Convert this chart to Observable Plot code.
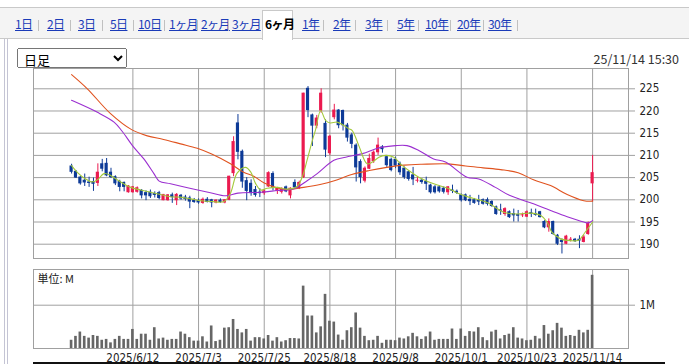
<!DOCTYPE html>
<html><head><meta charset="utf-8">
<script src="https://cdn.jsdelivr.net/npm/d3@7"></script>
<script src="https://cdn.jsdelivr.net/npm/@observablehq/plot@0.6"></script>
<style>
body{margin:0;background:#fff;}
#wrap{position:relative;width:689px;height:364px;overflow:hidden;font-family:"Noto Sans CJK JP",sans-serif;}
#tabbar{position:absolute;left:0;top:7px;width:689px;height:32px;background:#f4f4f4;border-top:1px solid #c9c9c9;border-bottom:1px solid #c9c9c9;box-sizing:border-box;}
.sel{position:absolute;left:262px;top:10px;width:31px;height:30px;background:#fff;border:1px solid #c9c9c9;border-bottom:none;box-sizing:border-box;}
.tab{position:absolute;top:17px;font-size:12px;line-height:14px;color:#1a3bb8;text-decoration:underline;white-space:nowrap;letter-spacing:-0.6px;}
.tab.on{color:#000;font-weight:bold;text-decoration:none;}
.sep{position:absolute;top:20px;width:1px;height:11px;background:#c0c0c0;}
#box{position:absolute;left:4px;top:39px;width:2px;height:330px;border-left:1px solid #c4c4d4;border-right:1px solid #c4c4d4;}
#ddl{position:absolute;left:17px;top:48px;width:110px;height:20px;font-size:13px;font-family:"Noto Sans CJK JP",sans-serif;padding:0 2px;}
#stamp{position:absolute;right:10px;top:49px;font-size:12.5px;color:#333;font-family:"Noto Sans CJK JP",sans-serif;}
#price{position:absolute;left:0;top:60px;}
#vol{position:absolute;left:0;top:260px;}
#base{position:absolute;left:33px;top:362px;width:632px;height:2px;background:#111;}
</style></head>
<body><div id="wrap">
<div id="tabbar"></div>
<div class="sel"></div>
<div id="tabs"></div>
<div id="box"></div>
<select id="ddl"><option>日足</option></select>
<div id="stamp">25/11/14 15:30</div>
<div id="price"></div>
<div id="vol"></div>
<div id="base"></div>
</div>
<script>
// ---- page texts ----
const tabLabels = ["1日","2日","3日","5日","10日","1ヶ月","2ヶ月","3ヶ月","6ヶ月","1年","2年","3年","5年","10年","20年","30年"];
const tabLeft   = [15,47,78,110,138,169,201,232,265,302,333,365,397,425,457,488];
const sepLeft   = [38,70,102,133,164,197,228,323,355,387,418,450,483,517];
const selectedTab = "6ヶ月";

// ---- chart data (trading-day index 0 = 2025/5/23 ... 119 = 2025/11/14) ----
const open = [207.5,206.3,205.0,204.3,203.9,204.0,203.8,208.0,208.1,206.1,
205.1,204.0,203.8,201.7,201.7,201.8,202.0,201.5,201.6,201.3,
201.5,199.9,199.9,201.0,199.9,200.9,200.5,200.3,199.8,199.7,
199.3,200.0,199.9,199.4,199.8,199.4,200.0,206.0,217.2,210.8,
204.2,203.6,202.2,201.6,201.5,203.0,205.8,202.0,201.8,202.8,
201.0,203.8,202.6,205.1,225.0,219.0,216.7,220.1,217.1,210.5,
218.6,220.1,220.0,216.7,214.5,212.2,208.5,204.3,207.0,208.7,
210.7,211.8,209.6,209.0,209.0,208.1,207.0,206.2,205.5,204.3,
204.3,204.0,203.2,202.8,202.8,202.5,201.7,202.1,201.8,201.0,
201.0,200.0,199.9,199.8,199.9,199.9,199.5,198.3,197.6,196.8,
197.2,196.8,196.6,196.5,196.2,197.0,196.8,197.2,195.0,193.8,
195.0,191.9,190.8,190.1,191.0,191.0,191.0,190.5,192.3,203.7];
const high = [208.0,206.6,205.3,205.8,205.1,204.9,208.1,209.1,209.3,207.1,
205.4,204.4,204.0,203.2,203.0,202.9,202.3,202.0,202.2,201.8,
201.9,201.2,201.2,201.5,201.4,201.2,201.0,200.8,200.3,200.2,
200.4,200.5,200.1,200.0,200.2,200.0,205.3,214.2,219.2,211.2,
205.0,204.5,203.0,202.5,202.3,206.3,206.3,202.8,202.7,203.1,
202.7,204.5,204.2,224.0,225.5,219.3,219.0,225.0,218.0,214.5,
221.5,220.3,220.2,217.2,215.0,212.6,209.0,207.4,210.3,211.0,
213.9,212.2,210.0,209.4,209.6,208.5,207.4,206.5,207.3,205.0,
204.7,205.1,203.5,203.2,203.2,202.9,203.0,203.3,202.2,201.3,
201.3,201.0,200.3,201.0,200.2,200.4,199.8,198.6,199.0,198.2,
197.5,197.9,197.6,197.0,197.5,197.9,197.9,197.4,195.3,195.7,
195.2,192.2,191.2,192.0,191.5,191.3,191.9,192.0,195.0,210.0];
const low = [205.8,204.8,203.3,203.0,202.8,201.9,203.0,206.3,205.2,204.8,
203.2,201.8,201.8,201.5,201.5,201.5,200.2,199.8,200.3,200.4,
200.0,199.8,199.7,199.2,198.7,199.9,199.7,198.0,199.2,199.0,
199.0,199.3,198.2,199.1,199.2,199.1,199.8,205.2,209.0,202.6,
199.8,200.8,200.6,200.5,201.0,202.8,202.0,201.2,201.3,201.6,
200.2,202.5,202.3,204.8,218.5,212.0,216.0,219.5,209.5,210.0,
218.0,216.0,215.5,213.0,211.5,204.0,203.6,203.8,206.8,208.2,
210.0,210.5,207.3,206.3,207.0,205.5,204.6,204.2,203.2,203.8,
203.5,202.1,201.3,201.3,201.5,201.3,201.0,201.4,201.2,199.5,
199.6,198.7,199.0,198.7,198.8,198.6,198.3,196.5,196.5,196.3,
195.8,195.0,195.0,196.0,196.0,196.0,196.3,195.9,193.5,192.7,
192.0,189.7,187.8,189.9,190.5,190.4,189.0,190.3,192.0,199.6];
const close = [206.3,205.0,203.7,203.9,203.8,203.6,206.1,207.0,205.5,205.1,
203.7,202.9,202.9,203.0,202.8,202.6,201.0,201.0,200.8,201.1,
200.4,201.1,201.0,200.6,201.1,200.3,200.2,199.6,199.5,199.4,
200.0,199.5,199.4,199.8,199.5,199.9,205.2,213.0,210.8,204.1,
202.0,201.5,201.1,201.5,201.9,206.0,202.7,202.5,202.4,201.9,
202.5,202.8,203.8,223.9,220.2,216.7,218.3,223.9,211.3,214.2,
220.1,216.8,216.8,214.0,212.6,207.3,205.1,207.0,209.2,210.6,
212.2,211.4,207.8,206.7,207.7,206.2,205.1,204.7,204.6,204.3,
204.0,203.6,201.7,201.7,201.9,201.8,202.8,202.0,201.6,199.9,
199.9,199.7,199.3,199.6,199.1,199.1,198.6,196.8,197.5,197.9,
196.1,196.5,196.4,196.5,197.2,196.8,196.6,196.1,193.8,195.0,
192.3,190.1,190.5,191.7,191.0,190.7,190.8,191.5,194.6,206.0];
// volume in millions of shares
const volume = [0.19,0.28,0.38,0.28,0.24,0.30,0.28,0.19,0.21,0.13,
0.21,0.28,0.21,0.21,0.44,0.21,0.33,0.33,0.19,0.48,
0.22,0.24,0.19,0.21,0.21,0.38,0.33,0.25,0.17,0.17,
0.27,0.15,0.52,0.16,0.19,0.47,0.48,0.67,0.44,0.36,
0.44,0.17,0.25,0.25,0.22,0.30,0.17,0.25,0.15,0.18,
0.23,0.23,0.22,1.44,0.75,0.75,0.36,0.50,1.25,0.63,
0.61,0.31,0.19,0.41,0.48,0.82,0.47,0.28,0.18,0.19,
0.28,0.12,0.19,0.19,0.18,0.24,0.22,0.27,0.35,0.27,
0.21,0.27,0.38,0.19,0.21,0.21,0.21,0.45,0.21,0.45,
0.28,0.39,0.38,0.48,0.25,0.18,0.38,0.42,0.22,0.30,
0.33,0.48,0.24,0.22,0.18,0.19,0.28,0.22,0.53,0.33,
0.41,0.58,0.47,0.28,0.30,0.28,0.42,0.36,0.42,1.69];
// moving averages: [day index, value]
const maShort = [[0,207.7],[1.3,206.2],[3.2,204.7],[4.7,204.0],[5.9,204.5],[7.4,205.9],[8.9,205.5],[10.4,204.5],[11.9,203.6],[13.5,202.8],
[15.8,202.2],[18,201.7],[20.3,201.2],[22.6,200.7],[24.9,200.6],[27.2,200.2],[29.5,199.8],[32,199.6],[34.8,199.6],[36.3,201.5],
[37.8,206.0],[39.7,207.3],[40.9,206.3],[42,203.7],[43.2,202.2],[44.7,202.6],[47,202.8],[49.2,202.4],[51.5,203.0],[52.7,205.2],
[53.8,209.0],[55,213.4],[55.7,215.7],[56.9,220.1],[58,217.9],[59.1,217.3],[60.6,217.5],[62.1,216.8],[63.3,216.0],[64.1,215.6],
[65.6,212.2],[67.5,208.1],[68.7,208.5],[70.2,209.6],[71.7,210.0],[73.6,209.6],[75.1,208.1],[77,206.6],[79.3,205.1],[81.6,204.0],
[83.9,203.2],[86.2,202.5],[88.4,201.4],[90.7,200.6],[93,200.0],[95.3,199.2],[98.7,197.2],[101.8,196.8],[104.8,197.0],[107.1,196.5],
[108.6,195.0],[109.7,192.7],[111.7,191.2],[113.9,190.8],[115.8,190.9],[117.3,192.7],[119,195.0]];
const maMid = [[0,222.4],[5.9,219.7],[9.7,217.5],[11.5,215.5],[13.9,212.2],[16.5,209.2],[18.8,205.9],[20,204.2],[22.6,203.6],[27.5,202.5],
[31.7,201.6],[35.2,200.9],[38,201.5],[43.2,201.7],[47,202.1],[50.8,202.5],[53.8,204.3],[56.1,205.9],[59.9,208.9],[62.6,209.6],
[66.4,210.4],[70.2,211.7],[74,212.2],[76.6,212.2],[79.3,211.1],[82.7,209.2],[85.4,208.5],[90.3,205.1],[93,204.7],[96.8,202.8],
[100,201.0],[105.5,199.1],[109.4,197.6],[113.2,196.2],[117,195.0],[118,194.8],[119,195.3]];
const maLong = [[0,228.2],[3.6,225.0],[8.9,219.4],[13.7,215.8],[17.3,214.4],[21,213.6],[24.9,212.6],[28.7,211.6],[32,210.3],[36.3,208.1],
[39.3,206.2],[41.6,205.3],[44,203.8],[49,202.3],[53,202.8],[57,203.5],[60,204.3],[64,205.7],[68,206.6],[72,207.3],
[76,207.8],[80,208.0],[86,208.1],[90,207.6],[94,207.2],[98,206.8],[102,206.1],[105.5,204.5],[109.4,203.2],[113.2,201.2],
[117,199.8],[119,199.7]];
const tickIdx = [14,29,44,59,74,89,104,119];
const tickLabels = ["2025/6/12","2025/7/3","2025/7/25","2025/8/18","2025/9/8","2025/10/1","2025/10/23","2025/11/14"];
const priceTicks = [190,195,200,205,210,215,220,225];
const volTicks = [1];

// ---- tabs ----
const tabsEl = document.getElementById("tabs");
tabLabels.forEach((t,k)=>{const s=document.createElement("span");s.className="tab"+(t===selectedTab?" on":"");s.style.left=tabLeft[k]+"px";s.textContent=t;tabsEl.appendChild(s);});
sepLeft.forEach(x=>{const s=document.createElement("span");s.className="sep";s.style.left=x+"px";tabsEl.appendChild(s);});

// ---- build rows ----
const rows = close.map((c,i)=>({i, o:open[i], h:high[i], l:low[i], c, v:volume[i], up:c>=open[i]}));
const RED="#eb1a4f", BLUE="#0d3a97", GRID="#a0a0a0";
const xDom=[-8.7,127.2];
const lab = new Map(tickIdx.map((t,k)=>[t,tickLabels[k]]));
const font = {fontFamily:"'DejaVu Sans Condensed','DejaVu Sans',sans-serif",fontSize:"11.5px",color:"#222",background:"transparent",overflow:"visible"};

const price = Plot.plot({
  width:689,height:205,marginTop:8,marginBottom:7,marginLeft:33,marginRight:61,
  style:font,
  x:{domain:xDom,axis:null},
  y:{domain:[186.78,229.57],axis:null},
  marks:[
    Plot.ruleY(priceTicks,{stroke:GRID}),
    Plot.ruleX(tickIdx,{stroke:GRID}),
    Plot.ruleX(rows,{x:"i",y1:"l",y2:"h",stroke:d=>d.up?RED:BLUE,strokeWidth:1}),
    Plot.rect(rows,{x1:d=>d.i-0.36,x2:d=>d.i+0.36,y1:"o",y2:"c",fill:d=>d.up?RED:BLUE,insetTop:-0.5,insetBottom:-0.5}),
    Plot.line(maLong,{x:d=>d[0],y:d=>d[1],stroke:"#e0531f",strokeWidth:1.1,curve:"catmull-rom"}),
    Plot.line(maMid,{x:d=>d[0],y:d=>d[1],stroke:"#9b2fd0",strokeWidth:1.1,curve:"catmull-rom"}),
    Plot.line(maShort,{x:d=>d[0],y:d=>d[1],stroke:"#a3c93a",strokeWidth:1.1,curve:"catmull-rom"}),
    Plot.frame({stroke:GRID}),
    Plot.axisY(priceTicks,{anchor:"right",tickSize:6,tickPadding:5,stroke:GRID,label:null})
  ]
});
document.getElementById("price").appendChild(price);

const vol = Plot.plot({
  width:689,height:104,marginTop:9,marginBottom:16,marginLeft:33,marginRight:61,
  style:font,
  x:{domain:xDom},
  y:{domain:[0,1.824],axis:null},
  marks:[
    Plot.ruleY(volTicks,{stroke:GRID}),
    Plot.ruleX(tickIdx,{stroke:GRID}),
    Plot.rect(rows,{x1:d=>d.i-0.3,x2:d=>d.i+0.3,y1:0,y2:"v",fill:"#666"}),
    Plot.frame({stroke:GRID}),
    Plot.text(["単位: M"],{frameAnchor:"top-left",dx:4,dy:6,fontFamily:"'Noto Sans CJK JP',sans-serif",fontSize:11,fill:"#222"}),
    Plot.axisY(volTicks,{anchor:"right",tickSize:6,tickPadding:5,stroke:GRID,label:null,tickFormat:d=>d+"M"}),
    Plot.axisX(tickIdx,{anchor:"bottom",tickSize:0,tickPadding:5,label:null,tickFormat:d=>lab.get(d)})
  ]
});
document.getElementById("vol").appendChild(vol);
</script>
</body></html>
